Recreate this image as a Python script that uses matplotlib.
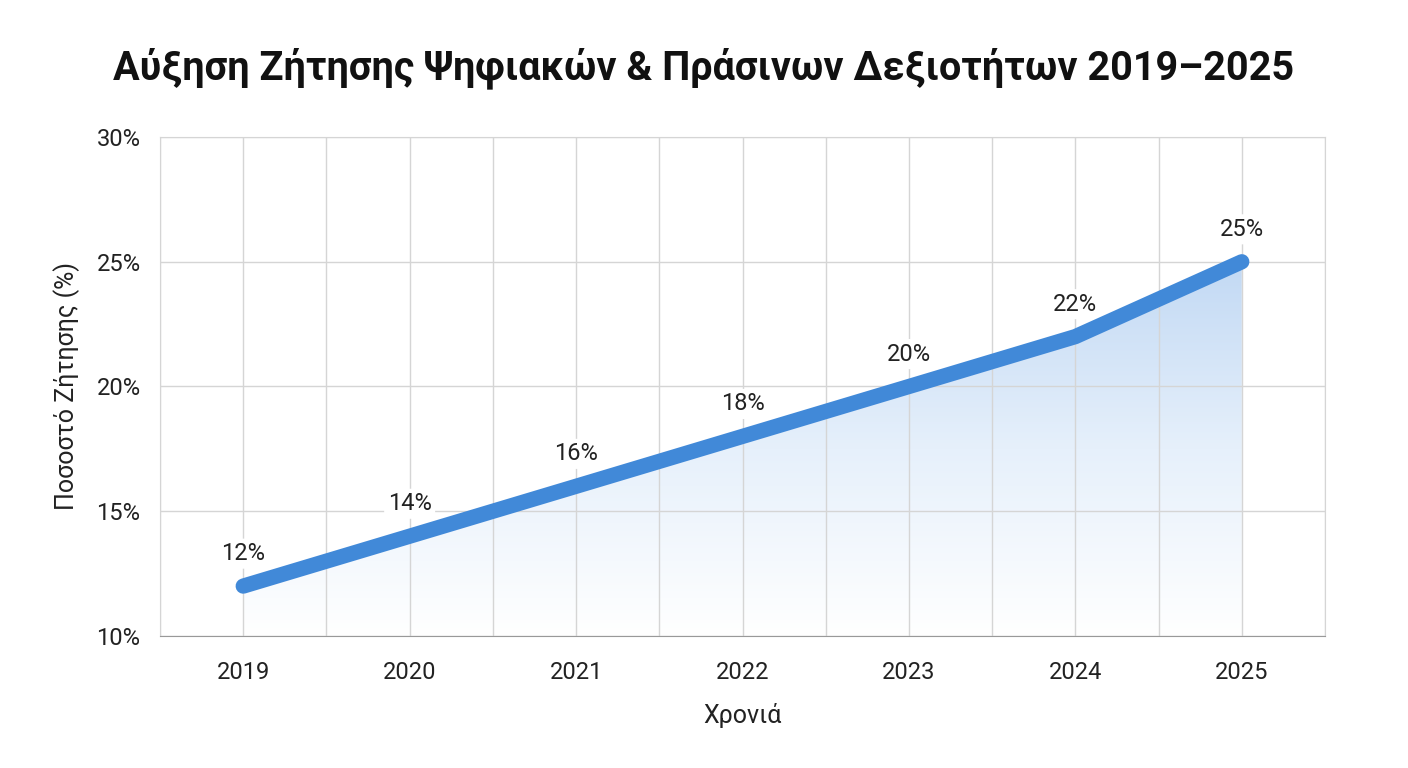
import numpy as np
import matplotlib
matplotlib.use("Agg")
import matplotlib.pyplot as plt
from matplotlib.patches import Polygon

plt.rcParams['font.family'] = ['Roboto', 'DejaVu Sans']

years = [2019, 2020, 2021, 2022, 2023, 2024, 2025]
demand = [12, 14, 16, 18, 20, 22, 25]
labels = ["12%", "14%", "16%", "18%", "20%", "22%", "25%"]
yticks = [10, 15, 20, 25, 30]

fig = plt.figure(figsize=(14.08, 7.68), dpi=100)
ax = fig.add_axes([160/1408, 1 - 636/768, (1325-160)/1408, (636-137)/768])
ax.set_xlim(2018.5, 2025.5)
ax.set_ylim(10, 30)

# gradient fill under the line (light, fading downward)
grad = np.linspace(0, 1, 256).reshape(-1, 1)
cmap = matplotlib.colors.LinearSegmentedColormap.from_list("g", ["#ffffff", "#e6f0fb", "#c2d9f4"])
im = ax.imshow(grad, extent=[2019, 2025, 10, 25], origin="lower", aspect="auto",
               cmap=cmap, vmin=0, vmax=1, zorder=1)
clip = Polygon(list(zip(years, demand)) + [(2025, 10), (2019, 10)], closed=True,
               transform=ax.transData, facecolor="none", edgecolor="none")
ax.add_patch(clip)
im.set_clip_path(clip)

for x, y, t in zip(years, demand, labels):
    ax.text(x, y + 1.3, t, ha="center", va="center", fontsize=17, color="#222222",
            bbox=dict(boxstyle="round,pad=0.15", fc="white", ec="none"), zorder=2)

ax.plot(years, demand, color="#4189d8", lw=11, solid_capstyle="round",
        solid_joinstyle="round", zorder=3)

ax.set_xticks(years)
ax.set_xticks(np.arange(2018.5, 2025.6, 1), minor=True)
ax.set_yticks(yticks)
ax.set_yticklabels([f"{v}%" for v in yticks])
ax.grid(True, which="both", color="#d5d5d5", lw=1, zorder=0)
ax.tick_params(which="both", length=0, labelsize=17, colors="#222222")
ax.tick_params(axis="x", pad=18)
ax.tick_params(axis="y", pad=14)
for s in ["top", "right", "left"]:
    ax.spines[s].set_color("#d5d5d5")
ax.spines["bottom"].set_color("#999999")

ax.set_xlabel("Χρονιά", fontsize=18, labelpad=14, color="#222222")
ax.set_ylabel("Ποσοστό Ζήτησης (%)", fontsize=18, labelpad=12, color="#222222")
fig.text(0.5, 1 - 68/768, "Αύξηση Ζήτησης Ψηφιακών & Πράσινων Δεξιοτήτων 2019–2025",
         ha="center", va="center", fontsize=28.5, fontweight="bold", color="#111111")

fig.savefig("out.png", dpi=100, facecolor="white")
